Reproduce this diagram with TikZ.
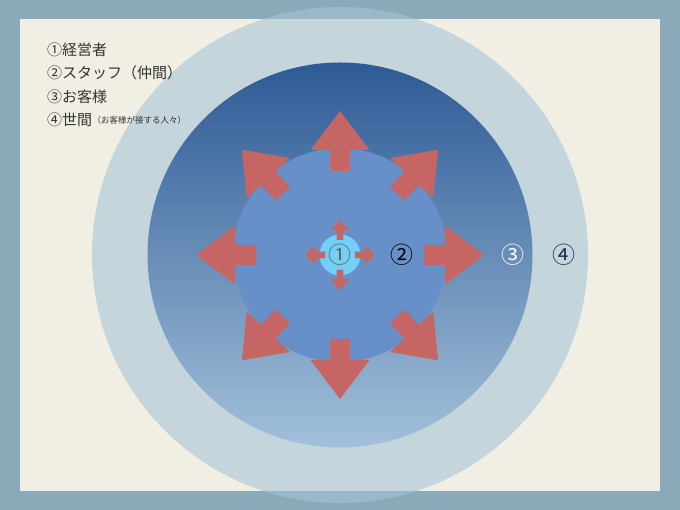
\documentclass[tikz,border=0pt]{standalone}
\usepackage{fontspec}
\newfontfamily\jp{Noto Sans CJK JP}
\definecolor{framec}{HTML}{8AAAB9}
\definecolor{paperc}{HTML}{F1EFE3}
\definecolor{outerc}{RGB}{166,195,216}
\definecolor{darktop}{HTML}{2E5A95}
\definecolor{darkbot}{HTML}{A2C0DA}
\definecolor{midc}{HTML}{6690C7}
\definecolor{smallc}{HTML}{72D0F8}
\definecolor{arrowred}{HTML}{C56665}
\definecolor{legendc}{HTML}{333333}
\definecolor{onec}{HTML}{5B6650}
\definecolor{fourc}{HTML}{1E2A50}
\tikzset{
  bigarrow/.style={fill=arrowred},
  num/.style={font=\jp\fontsize{23}{23}\selectfont, inner sep=0pt},
  legend/.style={font=\jp\fontsize{15}{15}\selectfont, text=legendc, anchor=west, inner sep=0pt},
}
\begin{document}
\begin{tikzpicture}[x=1pt,y=1pt]
\useasboundingbox (0,0) rectangle (680,510);
% frame and paper
\fill[framec] (0,0) rectangle (680,510);
\fill[paperc] (20,19) rectangle (660,491);
% outer circle (4)
\fill[outerc, fill opacity=0.58] (340,255) circle (248);
% dark gradient circle (3)
\shade[top color=darktop, bottom color=darkbot] (340,255) circle (192.5);
% middle circle (2)
\fill[midc] (340,255) circle (107);
% big arrows
\foreach \a in {0,47,90,133,180,227,270,313}{
  \fill[bigarrow, shift={(340,255)}, rotate=\a]
    (84,-10) -- (105,-10) -- (105,-29.5) -- (144,0) -- (105,29.5) -- (105,10) -- (84,10) -- cycle;
}
% small circle (1)
\fill[smallc] (340,255) circle (20.5);
% small arrows
\foreach \a in {0,90,180,270}{
  \fill[bigarrow, shift={(340,255)}, rotate=\a]
    (15,-3.4) -- (24.5,-3.4) -- (24.5,-9.8) -- (35,0) -- (24.5,9.8) -- (24.5,3.4) -- (15,3.4) -- cycle;
}
% labels
\node[num, text=onec] (n1) at (340,255.5) {①};
\node[num, text=black] (n2) at (402,255.5) {②};
\node[num, text=white] (n3) at (513,255.5) {③};
\node[num, text=fourc] (n4) at (564,255.5) {④};
% legend
\node[legend] (l1) at (47,460) {①経営者};
\node[legend] (l2) at (47,437) {②スタッフ（仲間）};
\node[legend] (l3) at (47,413) {③お客様};
\node[legend] (l4) at (47,390) {④世間};
\node[font=\jp\fontsize{8.5}{8.5}\selectfont, text=legendc, anchor=west, inner sep=0pt] (l4b) at (l4.east) {（お客様が接する人々）};
\end{tikzpicture}
\end{document}
